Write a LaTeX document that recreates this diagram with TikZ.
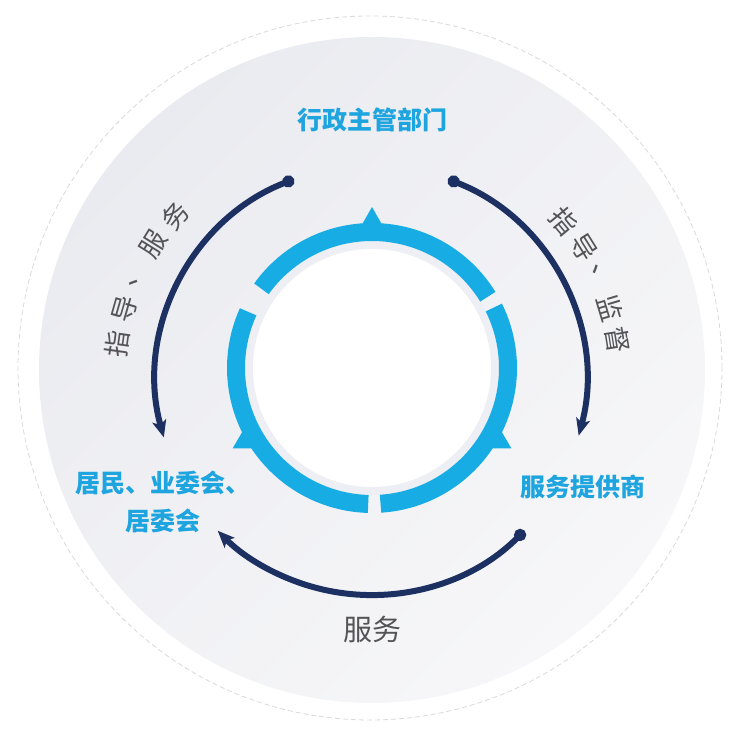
\documentclass[tikz,border=0pt]{standalone}
\usepackage{fontspec}
\usepackage{tikz}
\usepackage{xcolor}
\usetikzlibrary{arrows.meta,calc}
\newfontfamily\cjk{Noto Sans CJK SC}
\definecolor{ringblue}{RGB}{24,172,228}
\definecolor{titleblue}{RGB}{30,164,222}
\definecolor{navy}{RGB}{28,48,98}
\definecolor{labelgray}{RGB}{84,84,88}
\definecolor{diskgray}{RGB}{234,235,240}
\definecolor{disklight}{RGB}{247,247,249}
\definecolor{halo}{RGB}{237,239,244}
\tikzset{
    party-label/.style = {text=titleblue, font=\cjk\bfseries\fontsize{25}{38.5}\selectfont, align=center, inner sep=0pt},
    flow-label/.style = {text=labelgray, font=\cjk\fontsize{26.5}{30}\selectfont, inner sep=0pt},
    flow-arc/.style = {draw=navy, line width=6pt, {Circle[length=12pt]}-{Stealth[length=17pt,width=14pt,inset=4pt]}},
    ring-seg/.style = {draw=ringblue, line width=18pt},
    ring-tip/.style = {fill=ringblue},
}

\begin{document}
\begin{tikzpicture}[x=1pt,y=1pt]
\useasboundingbox (0,0) rectangle (740,735);
\coordinate (hub) at (372,367);
\coordinate (orbit) at (371,355);
\draw[black!15, dash pattern=on 5pt off 3pt, line width=0.8pt] (370,367) circle[radius=352];
\shade[top color=diskgray, bottom color=disklight, shading angle=45] (372,365) circle[radius=333];
\fill[halo] (hub) circle[radius=127];
\fill[white] (hub) circle[radius=119];
\foreach \a in {31.6,155.6,273.6}
    \draw[ring-seg] ($(hub)+(\a:136)$) arc[start angle=\a, delta angle=112.8, radius=136];
\foreach \a in {90,210,330}
    \fill[ring-tip] ($(hub)+({\a-4.5}:142)$) -- ($(hub)+(\a:161)$) -- ($(hub)+({\a+4.5}:142)$) -- cycle;

\node[party-label] (admin) at (372,615) {行政主管部门};
\node[party-label] (provider) at (583,248) {服务提供商};
\node[party-label] (residents) at (163,233) {居民、业委会、\\居委会};
\node[flow-label, font=\cjk\fontsize{29}{32}\selectfont] (service) at (372,106) {服务};

\coordinate (guide-start) at ($(orbit)+(111:215)$);
\coordinate (super-start) at ($(orbit)+(69:215)$);
\coordinate (serve-start) at ($(orbit)+(315.5:215)$);
\draw[flow-arc] (guide-start) arc[start angle=111, end angle=195.5, radius=215];
\draw[flow-arc] (super-start) arc[start angle=69, end angle=-15, radius=215];
\draw[flow-arc] (serve-start) arc[start angle=315.5, end angle=224.5, radius=215];

\foreach \ch [count=\i, evaluate=\i as \a using 180-8*\i] in {指,导,、,服,务}
    \node[flow-label, rotate=\a-90] at ($(orbit)+(\a:256)$) {\ch};
\foreach \ch [count=\i, evaluate=\i as \a using 47.1-7.6*\i] in {指,导,、,监,督}
    \node[flow-label, rotate=\a-90] at ($(orbit)+(\a:250)$) {\ch};
\end{tikzpicture}
\end{document}
